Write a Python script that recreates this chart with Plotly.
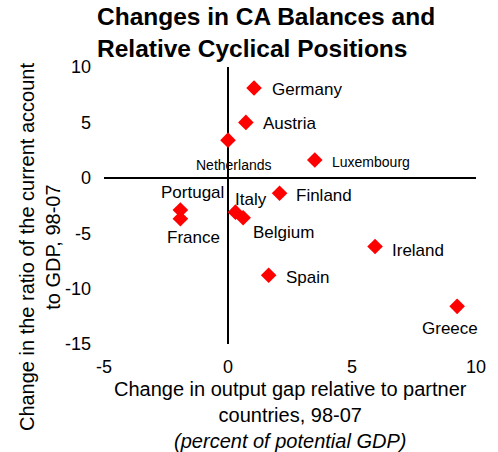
import plotly.graph_objects as go

# data
countries = ["Germany", "Austria", "Netherlands", "Luxembourg", "Finland", "Portugal",
             "Italy", "Belgium", "France", "Ireland", "Spain", "Greece"]
output_gap = [1.05, 0.72, 0.0, 3.5, 2.08, -1.92, 0.3, 0.61, -1.92, 5.93, 1.64, 9.24]
ca_change = [8.1, 5.0, 3.4, 1.6, -1.4, -2.9, -3.1, -3.6, -3.7, -6.2, -8.8, -11.6]

x_ticks = [-5, 0, 5, 10]
x_ticklabels = ["-5", "0", "5", "10"]
y_ticks = [-15, -10, -5, 0, 5, 10]
y_ticklabels = ["-15", "-10", "-5", "0", "5", "10"]

# label placement: (xanchor, xshift, yshift, font size)
label_pos = {
    "Germany": ("left", 16, -1, 17),
    "Austria": ("left", 15, -1, 17),
    "Netherlands": ("center", 6, -25, 14),
    "Luxembourg": ("left", 15, -2, 14),
    "Finland": ("left", 14, -2, 17),
    "Portugal": ("center", 12, 17, 17),
    "Italy": ("left", -2, 13, 17),
    "Belgium": ("left", 8, -15, 17),
    "France": ("center", 13, -19, 17),
    "Ireland": ("left", 15, -4, 17),
    "Spain": ("left", 15, -2, 17),
    "Greece": ("center", -7, -22, 17),
}

font = "Liberation Sans, Arial, sans-serif"

fig = go.Figure()
fig.add_trace(go.Scatter(x=output_gap, y=ca_change, mode="markers",
                         marker=dict(symbol="diamond", size=12, color="#FF0000"),
                         hoverinfo="skip", showlegend=False))

for c, xv, yv in zip(countries, output_gap, ca_change):
    anc, xs, ys, fs = label_pos[c]
    fig.add_annotation(x=xv, y=yv, text=c, showarrow=False, xanchor=anc, yanchor="middle",
                       xshift=xs, yshift=ys, font=dict(size=fs, color="black", family=font))

# title
fig.add_annotation(xref="paper", yref="paper", x=-0.024, y=1.24, xanchor="left", yanchor="top",
                   text="<b>Changes in CA Balances and<br>Relative Cyclical Positions</b>",
                   showarrow=False, align="left",
                   font=dict(size=24.5, color="black", family=font))
# axis titles
fig.add_annotation(xref="paper", yref="paper", x=-0.172, y=0.35, textangle=-90,
                   text="Change in the ratio of the current account<br>to GDP, 98-07",
                   showarrow=False, xanchor="center", yanchor="middle",
                   font=dict(size=20, color="black", family=font))
fig.add_annotation(xref="paper", yref="paper", x=0.5, y=-0.258,
                   text="Change in output gap relative to partner<br>countries, 98-07<br><i>(percent of potential GDP)</i>",
                   showarrow=False, xanchor="center", yanchor="middle",
                   font=dict(size=20, color="black", family=font))

fig.update_xaxes(range=[-5, 10], tickvals=x_ticks, ticktext=x_ticklabels, showgrid=False,
                 zeroline=True, zerolinecolor="black", zerolinewidth=1.5, showline=False,
                 ticks="", ticklabelstandoff=10,
                 tickfont=dict(size=18, color="black", family=font))
fig.update_yaxes(range=[-15, 10], tickvals=y_ticks, ticktext=y_ticklabels, showgrid=False,
                 zeroline=True, zerolinecolor="black", zerolinewidth=1.5, showline=False,
                 ticks="", ticklabelstandoff=12,
                 tickfont=dict(size=18, color="black", family=font))

fig.update_layout(width=498, height=452, margin=dict(l=104, r=19, t=67, b=108),
                  plot_bgcolor="white", paper_bgcolor="white")

fig.write_html("out.html", config={"displayModeBar": False},
               post_script="document.body.style.margin='0';")
